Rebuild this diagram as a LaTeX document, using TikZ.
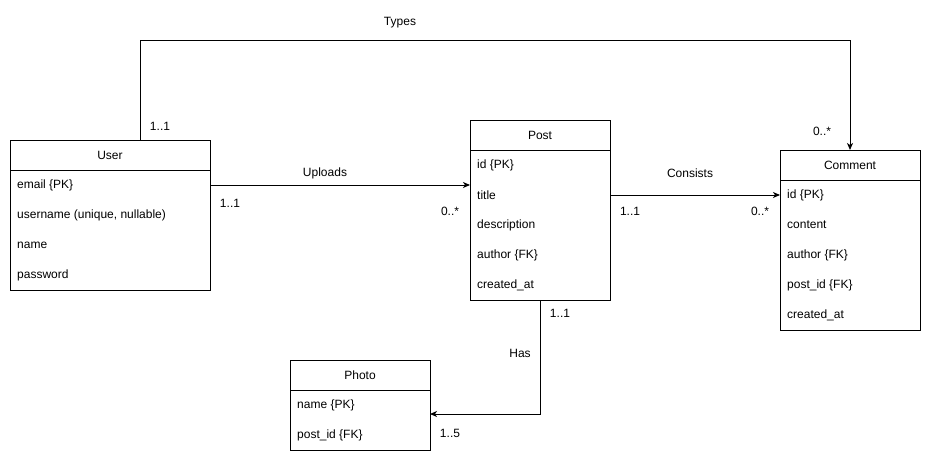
\documentclass[tikz,border=0pt]{standalone}
\usepackage{fontspec}
\setmainfont{Liberation Sans}
\usetikzlibrary{arrows.meta,calc}
\tikzset{
  entity/.style={draw, line width=1pt, anchor=north west, inner sep=0pt, fill=white},
  hdr/.style={anchor=center, inner sep=0pt},
  field/.style={anchor=west, inner sep=0pt},
  lbl/.style={anchor=center, inner sep=0pt},
  conn/.style={line width=1pt, -{Stealth[length=7pt,width=6pt,inset=2pt]}},
}
\begin{document}
\begin{tikzpicture}[x=1pt,y=-1pt,font=\fontsize{12}{14}\selectfont]
\useasboundingbox (0,0) rectangle (931,461);
% User
\node[entity, minimum width=200pt, minimum height=150pt] (user) at (10,140) {};
\draw[line width=1pt] ($(user.north west)+(0,30)$) -- ($(user.north east)+(0,30)$);
\node[hdr] (usert) at (110,155) {User};
\node[field] (u1) at (17,185) {email \{PK\}};
\node[field] (u2) at (17,215) {username (unique, nullable)};
\node[field] (u3) at (17,245) {name};
\node[field] (u4) at (17,275) {password};
% Post
\node[entity, minimum width=140pt, minimum height=180pt] (post) at (470,120) {};
\draw[line width=1pt] ($(post.north west)+(0,30)$) -- ($(post.north east)+(0,30)$);
\node[hdr] (postt) at (540,135) {Post};
\node[field] (p1) at (477,165) {id \{PK\}};
\node[field] (p2) at (477,195) {title};
\node[field] (p3) at (477,225) {description};
\node[field] (p4) at (477,255) {author \{FK\}};
\node[field] (p5) at (477,285) {created\_at};
% Comment
\node[entity, minimum width=140pt, minimum height=180pt] (comment) at (780,150) {};
\draw[line width=1pt] ($(comment.north west)+(0,30)$) -- ($(comment.north east)+(0,30)$);
\node[hdr] (commentt) at (850,165) {Comment};
\node[field] (c1) at (787,195) {id \{PK\}};
\node[field] (c2) at (787,225) {content};
\node[field] (c3) at (787,255) {author \{FK\}};
\node[field] (c4) at (787,285) {post\_id \{FK\}};
\node[field] (c5) at (787,315) {created\_at};
% Photo
\node[entity, minimum width=140pt, minimum height=90pt] (photo) at (290,360) {};
\draw[line width=1pt] ($(photo.north west)+(0,30)$) -- ($(photo.north east)+(0,30)$);
\node[hdr] (photot) at (360,375) {Photo};
\node[field] (ph1) at (297,405) {name \{PK\}};
\node[field] (ph2) at (297,435) {post\_id \{FK\}};
% Connectors
\draw[conn] (user.east |- u1) -- (post.west |- u1);
\draw[conn] (post.east |- p2) -- (comment.west |- c1);
\coordinate (hasend) at (430,414);
\draw[conn] (post.south) |- (hasend);
\draw[conn] ($(user.north west)+(130,0)$) -- ++(0,-100) -| ($(comment.north west)+(70,0)$);
% Labels
\node[lbl] (ltypes) at (400,23) {Types};
\node[lbl] (ltu) at (160,126) {1..1};
\node[lbl] (ltc) at (822,131) {0..*};
\node[lbl] (lup) at (325,173) {Uploads};
\node[lbl] (lupu) at (230,203) {1..1};
\node[lbl] (lupp) at (450,211) {0..*};
\node[lbl] (lcon) at (690,173) {Consists};
\node[lbl] (lconp) at (630,211) {1..1};
\node[lbl] (lconc) at (760,211) {0..*};
\node[lbl] (lhas) at (520,353) {Has};
\node[lbl] (lhasp) at (560,313) {1..1};
\node[lbl] (lhasph) at (450,433) {1..5};
\end{tikzpicture}
\end{document}
